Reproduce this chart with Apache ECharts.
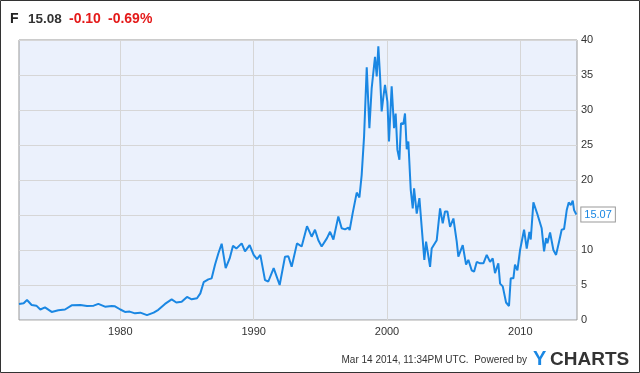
<!DOCTYPE html>
<html>
<head>
<meta charset="utf-8">
<script src="https://cdn.jsdelivr.net/npm/echarts@6/dist/echarts.min.js"></script>
<style>
html,body{margin:0;padding:0;background:#fff;}
#c{width:640px;height:373px;}
</style>
</head>
<body>
<div id="c"></div>
<script>
// Decimal years (x) and closing price (y)
const years = [1972.40,1972.75,1973.00,1973.35,1973.70,1974.00,1974.35,1974.85,1975.35,1975.85,1976.35,1977.00,1977.50,1978.00,1978.35,1978.85,1979.35,1979.60,1980.00,1980.35,1980.70,1981.10,1981.50,1982.00,1982.50,1982.85,1983.35,1983.85,1984.20,1984.60,1985.00,1985.35,1985.75,1986.00,1986.25,1986.60,1986.85,1987.10,1987.35,1987.60,1987.90,1988.20,1988.45,1988.70,1989.10,1989.35,1989.70,1990.00,1990.25,1990.50,1990.85,1991.10,1991.50,1991.95,1992.35,1992.60,1992.85,1993.25,1993.60,1994.00,1994.35,1994.60,1994.85,1995.10,1995.50,1995.73,1995.98,1996.35,1996.60,1996.85,1997.10,1997.20,1997.43,1997.73,1997.93,1998.10,1998.28,1998.48,1998.68,1998.85,1999.10,1999.23,1999.35,1999.48,1999.60,1999.73,1999.85,2000.03,2000.15,2000.35,2000.53,2000.65,2000.78,2000.93,2001.05,2001.23,2001.35,2001.48,2001.60,2001.78,2001.93,2002.03,2002.23,2002.43,2002.60,2002.80,2002.93,2003.23,2003.35,2003.73,2003.98,2004.18,2004.35,2004.53,2004.73,2004.98,2005.23,2005.35,2005.68,2005.93,2006.10,2006.35,2006.53,2006.73,2006.98,2007.23,2007.48,2007.73,2007.93,2008.10,2008.35,2008.48,2008.68,2008.80,2008.93,2009.15,2009.28,2009.48,2009.60,2009.78,2009.98,2010.28,2010.48,2010.68,2010.78,2010.98,2011.28,2011.43,2011.60,2011.78,2011.93,2012.03,2012.23,2012.48,2012.68,2012.93,2013.10,2013.28,2013.48,2013.63,2013.78,2013.93,2014.03,2014.20];
const prices = [2.3,2.4,2.85,2.15,2.05,1.5,1.8,1.15,1.4,1.5,2.1,2.15,2.0,2.05,2.3,1.9,2.0,1.95,1.5,1.15,1.2,0.95,1.05,0.7,1.05,1.45,2.3,2.95,2.5,2.6,3.3,2.95,3.1,3.8,5.4,5.8,5.95,7.9,9.5,10.9,7.4,8.8,10.6,10.2,10.95,9.8,10.7,9.3,8.7,9.3,5.7,5.5,7.4,5.0,9.05,9.1,7.6,10.95,10.5,13.4,11.9,12.9,11.4,10.5,11.7,12.6,11.5,14.8,13.1,12.95,13.2,12.85,15.3,18.2,17.5,20.7,26.2,36.1,27.4,33.1,37.6,34.8,39.1,34.8,29.8,31.9,33.6,31.2,25.5,33.4,27.4,29.5,24.3,22.9,28.1,28.0,29.5,24.4,25.5,18.6,15.95,18.8,15.2,17.4,13.3,8.6,11.2,7.6,10.2,11.4,15.95,13.8,15.5,15.5,13.3,14.5,11.2,9.05,10.7,7.9,8.6,7.1,6.9,8.3,8.1,8.1,9.3,8.3,8.8,6.7,8.1,5.2,4.8,4.9,2.5,2.0,5.95,5.95,7.9,7.1,10.0,12.9,10.2,12.6,11.5,16.8,15.1,15.3,13.1,9.8,11.7,10.95,12.5,10.0,9.3,11.4,12.9,13.0,15.7,16.8,16.4,17.05,15.7,15.07];
const xTickLabels = [1980, 1990, 2000, 2010];
const yTicks = {min: 0, max: 40, step: 5};
const lastLabel = '15.07';
const header = {ticker: 'F', price: '15.08', change: '-0.10', pct: '-0.69%'};
const footerText = 'Mar 14 2014, 11:34PM UTC.  Powered by';

const FONT = '"Liberation Sans", Arial, sans-serif';
const LINE = '#1a87e3';
const data = years.map((y, i) => [y, prices[i]]);

const chart = echarts.init(document.getElementById('c'), null, {renderer: 'canvas'});
chart.setOption({
  animation: false,
  backgroundColor: '#fff',
  textStyle: {fontFamily: FONT},
  grid: {left: 19, right: 63, top: 40, bottom: 53, show: true, backgroundColor: '#ebf1fc', borderColor: '#999', borderWidth: 1},
  xAxis: {
    type: 'value', min: 1972.4, max: 2014.25,
    axisLine: {show: false},
    axisTick: {show: false, customValues: xTickLabels},
    axisLabel: {customValues: xTickLabels, formatter: v => String(v), color: '#333', fontSize: 11, margin: 6, fontFamily: FONT},
    splitLine: {show: true, lineStyle: {color: '#d6d6d6', width: 1}}
  },
  yAxis: {
    type: 'value', position: 'right', min: yTicks.min, max: yTicks.max, interval: yTicks.step,
    axisLine: {show: false}, axisTick: {show: false},
    axisLabel: {color: '#333', fontSize: 11, margin: 4, fontFamily: FONT},
    splitLine: {show: true, lineStyle: {color: '#d6d6d6', width: 1}}
  },
  series: [{
    type: 'line', data: data, showSymbol: false, symbol: 'none',
    lineStyle: {color: LINE, width: 2},
    endLabel: {
      show: true, formatter: lastLabel, color: LINE, fontSize: 11, fontFamily: FONT,
      backgroundColor: '#fff', borderColor: '#999', borderWidth: 1, padding: [2, 3, 1, 3], distance: 5
    }
  }],
  graphic: [
    {type: 'rect', shape: {x: 0.5, y: 0.5, width: 639, height: 372}, style: {fill: 'none', stroke: '#333', lineWidth: 1}, silent: true},
    {type: 'text', left: 10, top: 12, style: {text: header.ticker, font: 'bold 14px ' + FONT, fill: '#222'}},
    {type: 'text', left: 28, top: 12, style: {text: header.price, font: 'bold 13.5px ' + FONT, fill: '#333'}},
    {type: 'text', left: 69, top: 12, style: {text: header.change, font: 'bold 14px ' + FONT, fill: '#e41a1a'}},
    {type: 'text', left: 108, top: 12, style: {text: header.pct, font: 'bold 14px ' + FONT, fill: '#e41a1a'}},
    {type: 'text', right: 113, top: 355, style: {text: footerText, font: '10px ' + FONT, fill: '#333'}},
    {type: 'text', left: 533, top: 349, style: {text: 'Y', font: 'bold 20px ' + FONT, fill: '#1a87e3'}},
    {type: 'text', left: 550, top: 350, style: {text: 'CHARTS', font: 'bold 19px ' + FONT, fill: '#333'}}
  ]
});
</script>
</body>
</html>
